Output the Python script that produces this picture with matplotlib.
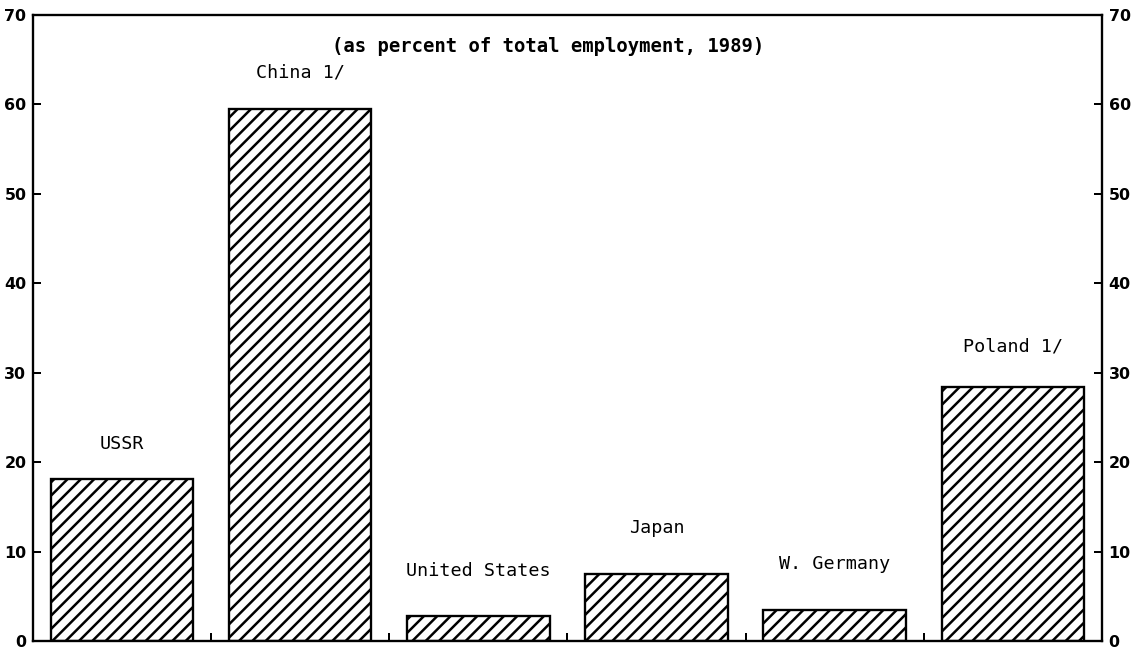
import matplotlib.pyplot as plt
import numpy as np

# Data
countries = ["USSR", "China 1/", "United States", "Japan", "W. Germany", "Poland 1/"]
shares = [18.1, 59.5, 2.8, 7.5, 3.5, 28.4]
label_y = [22.0, 63.6, 7.8, 12.6, 8.6, 32.9]
yticks = [0, 10, 20, 30, 40, 50, 60, 70]

# dpi 120 so the '///' hatch spacing matches the scan (~6.7 px)
DPI = 120
plt.rcParams['hatch.linewidth'] = 1.5
plt.rcParams['hatch.color'] = 'black'

fig = plt.figure(figsize=(1142 / DPI, 650 / DPI), dpi=DPI)
ax = fig.add_axes([0.0289, 0.0138, 0.936, 0.9631])

x = np.arange(len(countries))
ax.bar(x, shares, width=0.8, facecolor='white', edgecolor='black',
       linewidth=1.4, hatch='///')

for xi, name, ly in zip(x, countries, label_y):
    ax.text(xi, ly, name, ha='center', va='center', fontsize=11,
            family='DejaVu Sans Mono')

ax.text(2.39, 66.5, "(as percent of total employment, 1989)", ha='center',
        va='center', fontsize=11.3, family='DejaVu Sans Mono', weight='bold')

ax.set_xlim(-0.5, len(countries) - 0.5)
ax.set_ylim(0, 70)
ax.set_xticks(x[:-1] + 0.5)
ax.set_xticklabels([])
ax.tick_params(axis='x', direction='in', length=5, width=1.2)

ax.set_yticks(yticks)
ax.set_yticklabels([str(t) for t in yticks], fontsize=9.5, weight='bold')
ax.tick_params(axis='y', direction='in', length=5, width=1.2,
               left=True, right=True, labelleft=True, labelright=True, pad=4)

for s in ax.spines.values():
    s.set_linewidth(1.4)

plt.savefig('out.png', dpi=DPI)
